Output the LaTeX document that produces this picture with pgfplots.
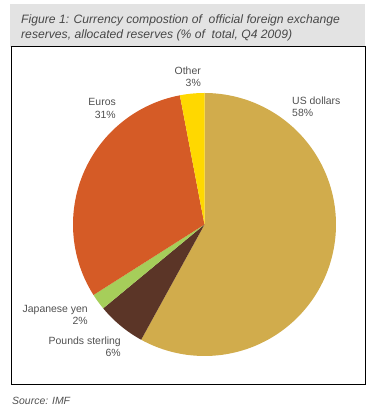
\documentclass[border=0pt]{standalone}
\usepackage{pgfplots}
\pgfplotsset{compat=1.18}
\usepackage{fontspec}
\setmainfont{Liberation Sans}
\definecolor{usd}{HTML}{D1AC4C}
\definecolor{eur}{HTML}{D55B26}
\definecolor{oth}{HTML}{FFD800}
\definecolor{gbp}{HTML}{5B3527}
\definecolor{jpy}{HTML}{A6CE5A}
\definecolor{titlebg}{HTML}{E3E3E3}
\definecolor{txt}{HTML}{505050}
\begin{document}
\begin{tikzpicture}
\useasboundingbox (0bp,0bp) rectangle (377bp,413bp);
\fill[titlebg] (10bp,366bp) rectangle (365bp,409bp);
\draw[black, line width=1bp] (11bp,366bp) rectangle (365bp,28bp);
\coordinate (C) at (204.5bp,188.5bp);
\begin{axis}[at={(C)}, anchor=center, scale only axis,
  width=263bp, height=263bp, xmin=-1, xmax=1, ymin=-1, ymax=1,
  hide axis, clip=false]
% shares (%): US dollars 58, Pounds sterling 6, Japanese yen 2, Euros 31, Other 3
\addplot[fill=usd, draw=none, domain={90-3.6*58}:{90}, samples=120] ({cos(x)},{sin(x)}) -- (axis cs:0,0) -- cycle;
\addplot[fill=gbp, draw=none, domain={90-3.6*(58+6)}:{90-3.6*58}, samples=20] ({cos(x)},{sin(x)}) -- (axis cs:0,0) -- cycle;
\addplot[fill=jpy, draw=none, domain={90-3.6*(58+6+2)}:{90-3.6*(58+6)}, samples=10] ({cos(x)},{sin(x)}) -- (axis cs:0,0) -- cycle;
\addplot[fill=eur, draw=none, domain={90+3.6*3}:{90+3.6*(3+31)}, samples=80] ({cos(x)},{sin(x)}) -- (axis cs:0,0) -- cycle;
\addplot[fill=oth, draw=none, domain={90}:{90+3.6*3}, samples=10] ({cos(x)},{sin(x)}) -- (axis cs:0,0) -- cycle;
\end{axis}
\begin{scope}[every node/.style={text=txt, inner sep=0pt, font=\fontsize{10.5}{12.5}\selectfont}]
\node[anchor=west, align=left] at (292bp,306bp) {US dollars\\58\%};
\node[anchor=east, align=right] at (201bp,336.5bp) {Other\\3\%};
\node[anchor=east, align=right] at (116bp,304.5bp) {Euros\\31\%};
\node[anchor=east, align=right] at (88bp,98bp) {Japanese yen\\2\%};
\node[anchor=east, align=right] at (121bp,66bp) {Pounds sterling\\6\%};
\end{scope}
\node[anchor=base west, inner sep=0pt, text=txt!90!black, font=\fontsize{12.2}{14}\selectfont\itshape] at (21bp,389bp) {Figure 1: Currency compostion of\ \ official foreign exchange};
\node[anchor=base west, inner sep=0pt, text=txt!90!black, font=\fontsize{12.2}{14}\selectfont\itshape] at (21bp,374bp) {reserves, allocated reserves (\% of\ \ total, Q4 2009)};
\node[anchor=base west, inner sep=0pt, text=txt, font=\fontsize{10.5}{12}\selectfont\itshape] at (12bp,9bp) {Source: IMF};
\end{tikzpicture}
\end{document}
